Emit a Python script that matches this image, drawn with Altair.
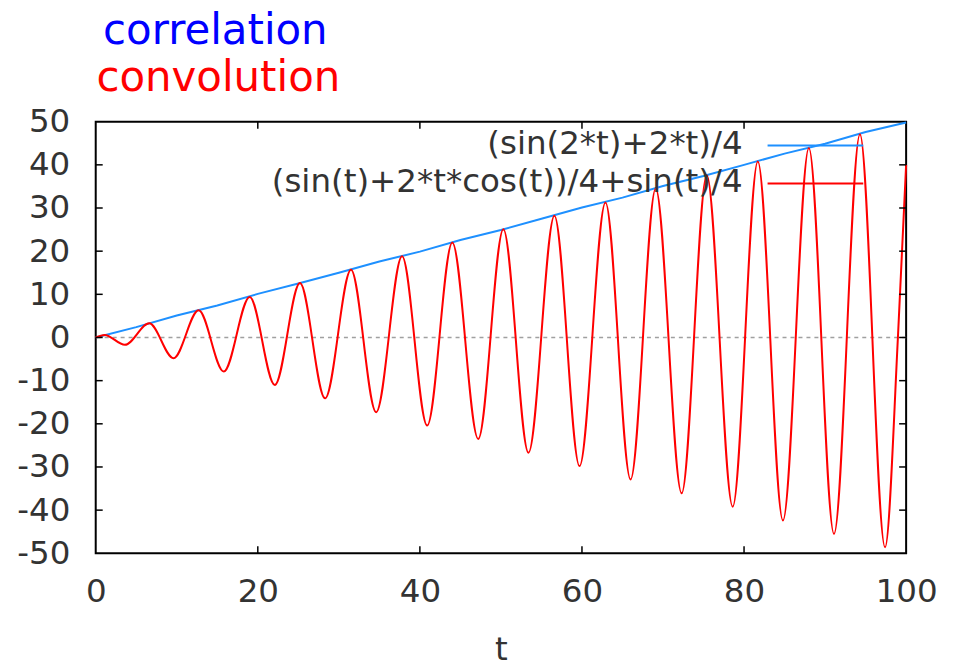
import altair as alt
import pandas as pd

# ---- data ----
red_t = [0, 1.1, 3.6, 6.6, 9.6, 12.7, 15.8, 19.0, 22.1, 25.2, 28.3, 31.5, 34.6, 37.8,
         40.9, 44.0, 47.2, 50.3, 53.4, 56.6, 59.7, 62.9, 66.0, 69.1, 72.3, 75.4, 78.6,
         81.7, 84.8, 88.0, 91.1, 94.3, 97.4, 99.0, 100]
red_y = [0, 0.6, -1.7, 3.3, -4.8, 6.3, -7.9, 9.4, -11.0, 12.6, -14.1, 15.7, -17.3, 18.8,
         -20.4, 22.0, -23.5, 25.1, -26.7, 28.2, -29.8, 31.3, -32.9, 34.5, -36.1, 37.6, -39.2,
         40.8, -42.4, 43.9, -45.5, 47.1, -48.6, 0.5, 40.0]

blue_t = [0, 5, 10, 15, 20, 25, 30, 35, 40, 45, 50, 55, 60, 65, 70, 75, 80, 85, 90, 95, 100]
blue_y = [0, 2.4, 5.1, 7.4, 10.1, 12.5, 15.0, 17.6, 19.9, 22.6, 24.9, 27.5, 30.1, 32.4,
          35.1, 37.4, 40.0, 42.6, 44.9, 47.6, 49.8]

x_labels = [0, 20, 40, 60, 80, 100]
y_labels = [-50, -40, -30, -20, -10, 0, 10, 20, 30, 40, 50]
x_ticks = [20, 40, 60, 80]
y_ticks = [-40, -30, -20, -10, 0, 10, 20, 30, 40]

series_names = ["(sin(2*t)+2*t)/4", "(sin(t)+2*t*cos(t))/4+sin(t)/4"]
series_colors = ["#1e90ff", "#ff0000"]
title_lines = ["correlation", "convolution"]
title_colors = ["#0000ff", "#ff0000"]

FONT = "DejaVu Sans"
TXT = "#333333"
FS = 32.6
W, H = 813, 433

xs = alt.Scale(domain=[0, 100], nice=False, zero=False)
ys = alt.Scale(domain=[-50, 50], nice=False, zero=False)
xaxis = alt.Axis(values=x_labels, title="t", domain=False, ticks=False, tickSize=0,
                 grid=False, labelPadding=22, titlePadding=26, labelFlush=False,
                 labelOverlap=False, labelExpr="datum.value + ''")
yaxis = alt.Axis(values=y_labels, title="", domain=False, ticks=False, tickSize=0,
                 grid=False, labelPadding=26, labelFlush=False, labelOverlap=False,
                 labelExpr="datum.value + ''")

X = alt.X("t:Q", scale=xs, axis=xaxis)
Y = alt.Y("y:Q", scale=ys, axis=yaxis)

df_red = pd.DataFrame({"t": red_t, "y": red_y})
df_blue = pd.DataFrame({"t": blue_t, "y": blue_y})

zero = alt.Chart(pd.DataFrame({"y": [0]})).mark_rule(
    color="#a0a0a0", strokeDash=[4, 4], strokeWidth=1.5).encode(y=Y)

blue = alt.Chart(df_blue).mark_line(color=series_colors[0], strokeWidth=2).encode(x=X, y=Y)
red = alt.Chart(df_red).mark_line(color=series_colors[1], strokeWidth=2,
                                  interpolate="monotone").encode(x=X, y=Y)

ydf = pd.DataFrame({"y": y_ticks})
xdf = pd.DataFrame({"t": x_ticks})
tick_left = alt.Chart(ydf).mark_rule(color="black", strokeWidth=1.5).encode(
    y=Y, x=alt.value(0), x2=alt.value(7))
tick_right = alt.Chart(ydf).mark_rule(color="black", strokeWidth=1.5).encode(
    y=Y, x=alt.value(W - 7), x2=alt.value(W))
tick_bottom = alt.Chart(xdf).mark_rule(color="black", strokeWidth=1.5).encode(
    x=X, y=alt.value(H - 7), y2=alt.value(H))
tick_top = alt.Chart(xdf).mark_rule(color="black", strokeWidth=1.5).encode(
    x=X, y=alt.value(0), y2=alt.value(7))

layers = [zero, blue, red, tick_left, tick_right, tick_bottom, tick_top]

for i, (name, col) in enumerate(zip(series_names, series_colors)):
    d = pd.DataFrame({"label": [name]})
    layers.append(alt.Chart(d).mark_text(
        align="right", baseline="alphabetic", font=FONT, fontSize=FS, color=TXT
    ).encode(x=alt.value(649), y=alt.value(32 + 39 * i), text="label:N"))
    layers.append(alt.Chart(d).mark_rule(color=col, strokeWidth=2).encode(
        x=alt.value(674), x2=alt.value(770), y=alt.value(24 + 38 * i)))

for i, (line, col) in enumerate(zip(title_lines, title_colors)):
    d = pd.DataFrame({"label": [line]})
    layers.append(alt.Chart(d).mark_text(
        align="center", baseline="alphabetic", font=FONT, fontSize=42, color=col
    ).encode(x=alt.value(120 + 3 * i), y=alt.value(-78 + 47 * i), text="label:N"))

chart = alt.layer(*layers).properties(
    width=W, height=H,
    autosize=alt.AutoSizeParams(type="none"),
    padding={"left": 88, "top": 113, "right": 40, "bottom": 106},
).configure_view(stroke="black", strokeWidth=2).configure_axis(
    labelFont=FONT, labelFontSize=FS, labelColor=TXT,
    titleFont=FONT, titleFontSize=FS, titleColor=TXT, titleFontWeight="normal"
)

chart.save("out.html", embed_options={"renderer": "svg", "actions": False})
